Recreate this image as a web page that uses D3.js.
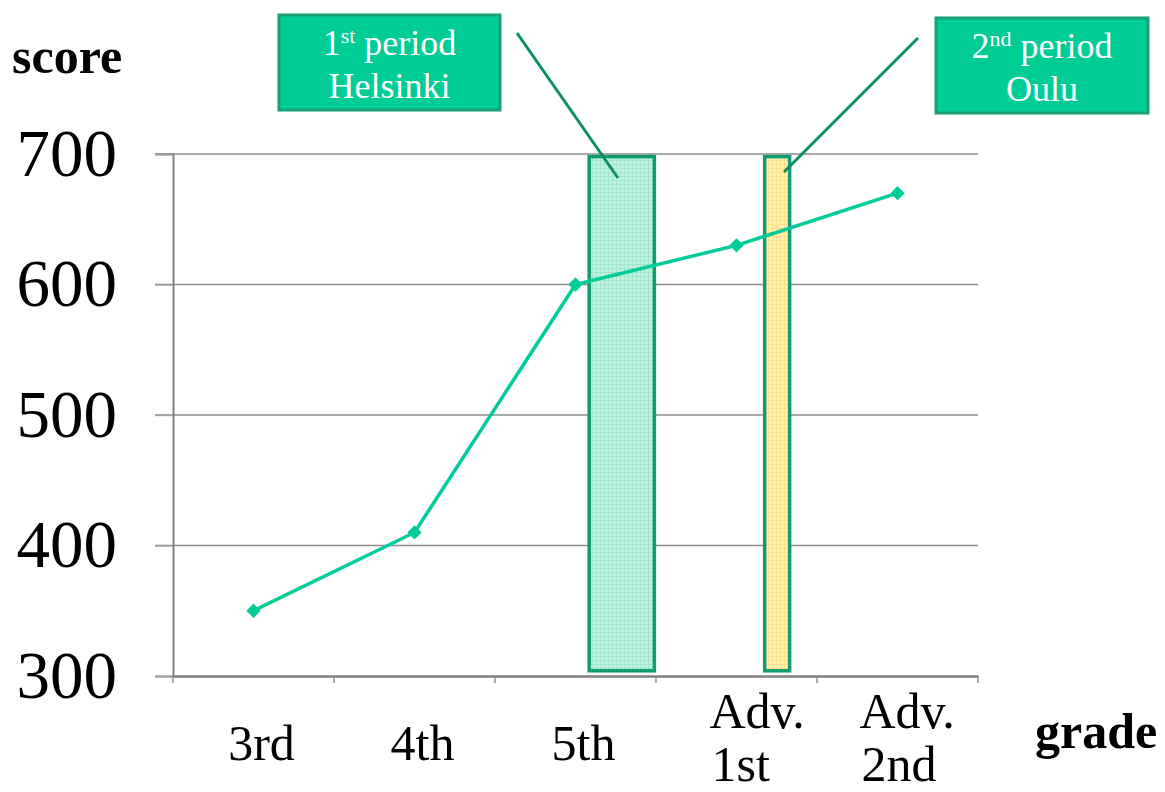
<!DOCTYPE html>
<html><head><meta charset="utf-8">
<script src="https://cdn.jsdelivr.net/npm/d3@7"></script>
<style>html,body{margin:0;padding:0;background:#fff}svg{display:block}</style>
</head><body>
<svg id="c" width="1165" height="792"></svg>
<script>
const grades = [["3rd"], ["4th"], ["5th"], ["Adv.", "1st"], ["Adv.", "2nd"]];
const gradeKeys = ["3rd", "4th", "5th", "Adv. 1st", "Adv. 2nd"];
const scores = [350, 410, 600, 630, 670];
const yTicks = [300, 400, 500, 600, 700];
const periodNum = ["1", "2"];
const periodSup = ["st", "nd"];
const periodCity = ["Helsinki", "Oulu"];
const periodGrade = ["5th", "Adv. 1st"];
const periodTop = [698, 698];
const periodBottom = [304, 304];

const serif = "'Liberation Serif','Times New Roman',serif";
const svg = d3.select("#c");
const x = d3.scaleBand().domain(gradeKeys).range([173, 978]);
const y = d3.scaleLinear().domain([300, 700]).range([676, 154]);

const defs = svg.append("defs");
function pat(id, bg, dot) {
  const p = defs.append("pattern").attr("id", id).attr("width", 4).attr("height", 4).attr("patternUnits", "userSpaceOnUse");
  p.append("rect").attr("width", 4).attr("height", 4).attr("fill", bg);
  p.append("rect").attr("x", 0).attr("y", 0).attr("width", 1).attr("height", 4).attr("fill", dot);
  p.append("rect").attr("x", 0).attr("y", 0).attr("width", 4).attr("height", 1).attr("fill", dot);
}
pat("pg", "#c4f0e0", "#9fe6cd");
pat("py", "#fff0bc", "#ffdf8a");

// grid
svg.append("g").selectAll("line").data(yTicks.filter(d => d > 300)).join("line")
  .attr("x1", 155).attr("x2", 978).attr("y1", d => y(d)).attr("y2", d => y(d))
  .attr("stroke", "#8c8c8c").attr("stroke-width", 1.3);

// y axis
const ya = svg.append("g").attr("transform", "translate(173,0)")
  .call(d3.axisLeft(y).tickValues(yTicks).tickSize(18).tickPadding(38).tickFormat(d3.format("d")));
ya.select(".domain").attr("stroke", "#808080").attr("stroke-width", 2);
ya.selectAll(".tick line").attr("stroke", "#a0a0a0").attr("stroke-width", 1.3);
ya.selectAll(".tick text").attr("font-family", serif).attr("font-size", 67).attr("fill", "#000").attr("dy", "0.32em");

// x axis
const xa = svg.append("g").attr("transform", "translate(0,676)")
  .call(d3.axisBottom(x).tickSize(0).tickFormat(""));
xa.select(".domain").attr("stroke", "#808080").attr("stroke-width", 2.5);
const edges = gradeKeys.map(k => x(k)).concat([x.range()[1]]);
svg.append("g").selectAll("line").data(edges).join("line")
  .attr("x1", d => d).attr("x2", d => d).attr("y1", 676).attr("y2", 683)
  .attr("stroke", "#808080").attr("stroke-width", 1.3);

// x labels
const xl = svg.append("g").attr("font-family", serif).attr("font-size", 50).attr("fill", "#000");
grades.forEach((g, i) => {
  const cx = x(gradeKeys[i]) + x.bandwidth() / 2;
  if (g.length === 1) {
    xl.append("text").attr("x", cx + 8).attr("y", 760).attr("text-anchor", "middle").text(g[0]);
  } else {
    const t = xl.append("text").attr("text-anchor", "start");
    const left = cx - 27 + (i === 4 ? -11 : 0);
    t.append("tspan").attr("x", left).attr("y", 728).text(g[0]);
    t.append("tspan").attr("x", left + 2).attr("y", 781).text(g[1]);
  }
});

// axis titles
svg.append("text").attr("x", 12).attr("y", 73).attr("font-family", serif).attr("font-weight", "bold")
  .attr("font-size", 50).text("score");
svg.append("text").attr("x", 1035).attr("y", 748).attr("font-family", serif).attr("font-weight", "bold")
  .attr("font-size", 50).text("grade");

// period rects
const rectSpec = [{fill: "url(#pg)", f0: 0.585, f1: 0.99}, {fill: "url(#py)", f0: 0.675, f1: 0.83}];
svg.append("g").selectAll("rect").data(periodGrade).join("rect")
  .attr("x", (d, i) => x(d) + x.bandwidth() * rectSpec[i].f0)
  .attr("width", (d, i) => x.bandwidth() * (rectSpec[i].f1 - rectSpec[i].f0))
  .attr("y", (d, i) => y(periodTop[i]))
  .attr("height", (d, i) => y(periodBottom[i]) - y(periodTop[i]))
  .attr("fill", (d, i) => rectSpec[i].fill)
  .attr("stroke", "#109c70").attr("stroke-width", 3.5);

// line
svg.append("path").datum(scores)
  .attr("d", d3.line().x((d, i) => x(gradeKeys[i]) + x.bandwidth() / 2).y(d => y(d)))
  .attr("fill", "none").attr("stroke", "#00cc99").attr("stroke-width", 3.5);
svg.append("g").selectAll("path").data(scores).join("path")
  .attr("transform", (d, i) => `translate(${x(gradeKeys[i]) + x.bandwidth() / 2},${y(d)})`)
  .attr("d", d3.symbol(d3.symbolDiamond2, 130))
  .attr("fill", "#00cc99");

// leader lines
const leaders = [[517, 33, 618, 178], [918, 38, 784, 172]];
svg.append("g").selectAll("line").data(leaders).join("line")
  .attr("x1", d => d[0]).attr("y1", d => d[1]).attr("x2", d => d[2]).attr("y2", d => d[3])
  .attr("stroke", "#0e8c66").attr("stroke-width", 3);

// callout boxes
const boxes = [{x: 279, y: 15, w: 221, h: 95}, {x: 936, y: 18, w: 212, h: 95}];
const bg = svg.append("g");
boxes.forEach((b, i) => {
  bg.append("rect").attr("x", b.x).attr("y", b.y).attr("width", b.w).attr("height", b.h)
    .attr("fill", "#00cc96").attr("stroke", "#18a078").attr("stroke-width", 3);
  const cx = b.x + b.w / 2;
  const t = bg.append("text").attr("x", cx).attr("y", b.y + 40).attr("text-anchor", "middle")
    .attr("font-family", serif).attr("font-size", 36).attr("fill", "#fff");
  t.append("tspan").text(periodNum[i]);
  t.append("tspan").attr("font-size", 22).attr("dy", -12).text(periodSup[i]);
  t.append("tspan").attr("dy", 12).text(" period");
  bg.append("text").attr("x", cx).attr("y", b.y + 83).attr("text-anchor", "middle")
    .attr("font-family", serif).attr("font-size", 36).attr("fill", "#fff").text(periodCity[i]);
});
</script>
</body></html>
